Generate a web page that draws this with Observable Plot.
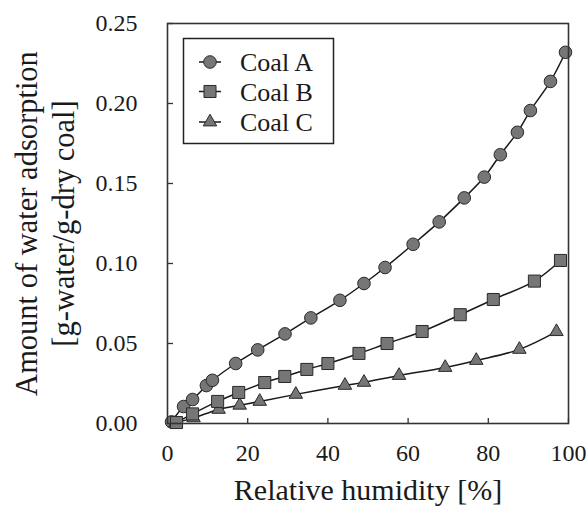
<!DOCTYPE html>
<html>
<head>
<meta charset="utf-8">
<script src="https://cdn.jsdelivr.net/npm/d3@7"></script>
<script src="https://cdn.jsdelivr.net/npm/@observablehq/plot@0.6"></script>
<style>
  html, body { margin: 0; padding: 0; background: white; }
  #wrap { position: relative; width: 588px; height: 506px; }
  #legend { position: absolute; left: 0; top: 0; }
</style>
</head>
<body>
<div id="wrap"></div>
<script>
// ---- data ----
const seriesNames = ["Coal A", "Coal B", "Coal C"];
const coalA_x = [1, 4, 6.25, 9.7, 11.2, 17, 22.5, 29.3, 35.75, 43, 49, 54.25, 61.25, 67.75, 74, 79, 83, 87.25, 90.5, 95.5, 99.25];
const coalA_y = [0.001, 0.0106, 0.015, 0.0237, 0.027, 0.0375, 0.046, 0.056, 0.066, 0.077, 0.0875, 0.0975, 0.112, 0.126, 0.141, 0.154, 0.168, 0.182, 0.1956, 0.2138, 0.232];
const coalB_x = [2.25, 6.25, 12.5, 17.75, 24.25, 29.25, 34.75, 40, 47.75, 54.75, 63.5, 73, 81.25, 91.5, 98];
const coalB_y = [0.0006, 0.006, 0.0138, 0.0194, 0.0256, 0.0294, 0.0338, 0.0375, 0.0438, 0.05, 0.0575, 0.068, 0.0775, 0.089, 0.1019];
const coalC_x = [2, 6.5, 12.75, 18, 23, 32, 44.25, 49, 57.75, 69.25, 77, 87.75, 97];
const coalC_y = [0.0004, 0.0035, 0.0088, 0.0114, 0.0138, 0.0182, 0.0238, 0.0257, 0.03, 0.035, 0.0394, 0.0463, 0.0574];
const xTicks = [0, 20, 40, 60, 80, 100];
const yTicks = [0, 0.05, 0.10, 0.15, 0.20, 0.25];
const xLabel = "Relative humidity [%]";
const yLabel = "Amount of water adsorption\n[g-water/g-dry coal]";

const toRows = (name, xs, ys) => xs.map((x, i) => ({series: name, x, y: ys[i]}));
const rowsA = toRows(seriesNames[0], coalA_x, coalA_y);
const rowsB = toRows(seriesNames[1], coalB_x, coalB_y);
const rowsC = toRows(seriesNames[2], coalC_x, coalC_y);
const all = [...rowsA, ...rowsB, ...rowsC];

const font = "'Liberation Serif', 'Times New Roman', serif";
const markerFill = "#767676";
const markerStroke = "#2a2a2a";
const sym = {
  "Coal A": {symbol: "circle", r: 6.3},
  "Coal B": {symbol: "square", r: 6.8},
  "Coal C": {symbol: "triangle", r: 5}
};

const chart = Plot.plot({
  width: 588,
  height: 506,
  marginLeft: 167,
  marginRight: 20,
  marginTop: 23,
  marginBottom: 83,
  style: {fontFamily: font, fontSize: "24px", color: "#1a1a1a", background: "white"},
  x: {domain: [0, 100]},
  y: {domain: [0, 0.25]},
  marks: [
    Plot.axisX({ticks: xTicks, tickSize: 0, tickPadding: 20, label: null, fontSize: 24}),
    Plot.axisY({ticks: yTicks, tickSize: 0, tickPadding: 30, tickFormat: d3.format(".2f"), label: null, fontSize: 24}),
    Plot.tickX(xTicks, {x: d => d, insetTop: 395, stroke: "#333", strokeWidth: 1.3}),
    Plot.tickY(yTicks, {y: d => d, insetRight: 395, stroke: "#333", strokeWidth: 1.3}),
    Plot.line(all, {x: "x", y: "y", z: "series", stroke: "#1a1a1a", strokeWidth: 1.5, curve: "catmull-rom"}),
    Plot.dot(rowsA, {x: "x", y: "y", symbol: sym["Coal A"].symbol, r: sym["Coal A"].r, fill: markerFill, stroke: markerStroke, strokeWidth: 1}),
    Plot.dot(rowsC, {x: "x", y: "y", symbol: sym["Coal C"].symbol, r: sym["Coal C"].r, fill: markerFill, stroke: markerStroke, strokeWidth: 1}),
    Plot.dot(rowsB, {x: "x", y: "y", symbol: sym["Coal B"].symbol, r: sym["Coal B"].r, fill: markerFill, stroke: markerStroke, strokeWidth: 1}),
    Plot.frame({stroke: "#333", strokeWidth: 1.6}),
    Plot.text([xLabel], {text: d => d, frameAnchor: "bottom", lineAnchor: "bottom", dy: 76, fontSize: 30, fill: "#1a1a1a"}),
    Plot.text([yLabel], {text: d => d, frameAnchor: "left", rotate: -90, dx: -124, lineAnchor: "middle", textAnchor: "middle", fontSize: 30.5, lineHeight: 1.22, fill: "#1a1a1a"})
  ]
});

const wrap = document.getElementById("wrap");
wrap.appendChild(chart);

// ---- legend overlay ----
const lg = d3.select(wrap).append("svg")
  .attr("id", "legend")
  .attr("width", 588).attr("height", 506)
  .style("pointer-events", "none");
lg.append("rect")
  .attr("x", 183.5).attr("y", 38.5).attr("width", 150).attr("height", 105)
  .attr("fill", "white").attr("stroke", "#222").attr("stroke-width", 1.5);
const symMap = {circle: d3.symbolCircle, square: d3.symbolSquare, triangle: d3.symbolTriangle};
const rowY = [62, 91.5, 122];
seriesNames.forEach((name, i) => {
  const g = lg.append("g").attr("transform", `translate(210,${rowY[i]})`);
  g.append("line").attr("x1", -11).attr("x2", 11).attr("stroke", "#1a1a1a").attr("stroke-width", 1.5);
  const s = sym[name];
  g.append("path")
    .attr("d", d3.symbol(symMap[s.symbol], Math.PI * s.r * s.r)())
    .attr("fill", markerFill).attr("stroke", markerStroke).attr("stroke-width", 1);
  lg.append("text")
    .attr("x", 240).attr("y", rowY[i]).attr("dy", "0.35em")
    .attr("font-family", font).attr("font-size", 26).attr("fill", "#1a1a1a")
    .text(name);
});
</script>
</body>
</html>
